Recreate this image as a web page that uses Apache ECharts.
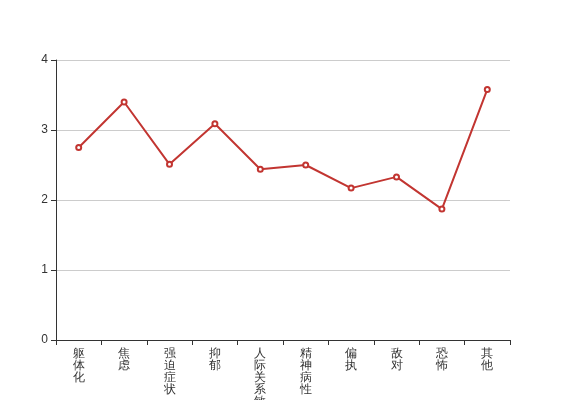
<!DOCTYPE html>
<html>
<head>
<meta charset="utf-8">
<script src="https://cdn.jsdelivr.net/npm/echarts@6/dist/echarts.min.js"></script>
<style>
  html, body { margin: 0; padding: 0; background: #fff; }
  #main { width: 567px; height: 400px; }
</style>
</head>
<body>
<div id="main"></div>
<script>
const categories = ['躯体化', '焦虑', '强迫症状', '抑郁', '人际关系敏感', '精神病性', '偏执', '敌对', '恐怖', '其他'];
const scores = [2.75, 3.40, 2.51, 3.09, 2.44, 2.50, 2.17, 2.33, 1.87, 3.58];

const chart = echarts.init(document.getElementById('main'), null, { renderer: 'canvas' });

const textStyle = { color: '#333', fontSize: 12, fontFamily: 'sans-serif' };

chart.setOption({
  animation: false,
  grid: { left: 56, right: 57, top: 60, bottom: 60, containLabel: false, outerBoundsMode: 'none' },
  xAxis: {
    type: 'category',
    data: categories,
    boundaryGap: true,
    axisLine: { lineStyle: { color: '#333' } },
    axisTick: { show: true, alignWithLabel: false, lineStyle: { color: '#333' } },
    axisLabel: {
      ...textStyle,
      interval: 0,
      lineHeight: 12,
      formatter: (v) => v.split('').join('\n')
    }
  },
  yAxis: {
    type: 'value',
    min: 0,
    max: 4,
    interval: 1,
    axisLine: { show: true, lineStyle: { color: '#333' } },
    axisTick: { show: true, lineStyle: { color: '#333' } },
    axisLabel: { ...textStyle },
    splitLine: { lineStyle: { color: '#ccc' } }
  },
  series: [{
    type: 'line',
    data: scores,
    symbol: 'emptyCircle',
    symbolSize: 5,
    lineStyle: { color: '#c23531', width: 2 },
    itemStyle: { color: '#c23531', borderWidth: 1 }
  }]
});
</script>
</body>
</html>
